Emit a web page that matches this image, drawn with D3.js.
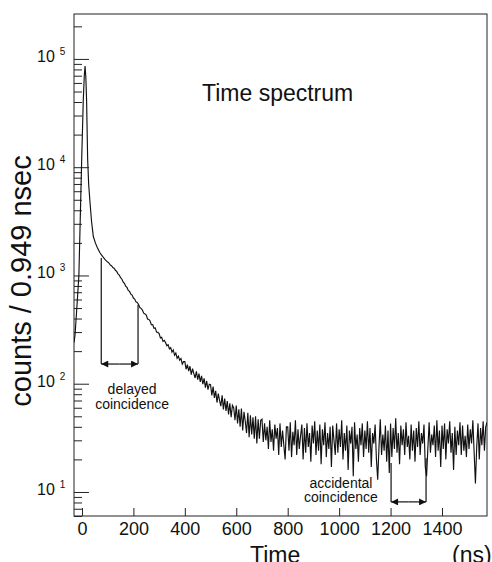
<!DOCTYPE html>
<html>
<head>
<meta charset="utf-8">
<script src="https://cdn.jsdelivr.net/npm/d3@7"></script>
<style>
body { margin: 0; background: #fff; }
svg text { font-family: "Liberation Sans", Arial, Helvetica, sans-serif; fill: #111; }
</style>
</head>
<body>
<svg id="chart" width="492" height="562"></svg>
<script>
// prompt peak, read point by point (ns, counts)
var peakTimes = [-31, -27, -20, -12, -6, -1, 5, 9, 12, 15, 18, 22, 26, 31, 37, 44, 52, 60, 70, 80, 90, 95];
var peakCounts = [240, 280, 500, 1000, 3900, 12000, 41000, 70000, 86000, 68000, 41000, 12000, 7000, 4800, 3200, 2300, 2000, 1800, 1620, 1500, 1400, 1365];

// decay and flat background, one reading every 5 ns from 100 ns
var tailStart = 100;
var tailStep = 5;
var tailCounts = [
  1330, 1302, 1250, 1231, 1185, 1168, 1116, 1090, 1035, 1010, 955, 928, 872, 846, 798, 775, 728, 712, 672, 658,
  618, 606, 570, 562, 540, 505, 497, 480, 448, 441, 430, 396, 392, 380, 350, 352, 325, 328, 300, 298,
  290, 265, 268, 246, 251, 240, 224, 229, 210, 216, 196, 205, 183, 192, 172, 180, 165, 171, 152, 160,
  160, 136, 150, 131, 145, 121, 138, 124, 113, 130, 109, 124, 104, 118, 99, 112, 92, 106, 88, 99,
  98, 78, 94, 74, 86, 67, 81, 70, 62, 78, 58, 73, 56, 69, 52, 66, 49, 63, 60, 46,
  63, 43, 58, 40, 59, 37, 55, 45, 35, 54, 32, 51, 34, 49, 31, 50, 28, 47, 31, 46,
  47, 29, 43, 30, 40, 25, 46, 29, 38, 24, 42, 31, 39, 22, 43, 26, 37, 27, 20, 40,
  40, 24, 44, 21, 36, 27, 46, 22, 38, 25, 33, 42, 20, 39, 23, 43, 26, 35, 19, 41,
  28, 45, 22, 37, 24, 42, 18, 38, 27, 44, 21, 35, 25, 40, 17, 41, 30, 22, 43, 23,
  38, 26, 46, 20, 35, 24, 41, 16, 37, 28, 40, 14, 44, 25, 34, 19, 39, 27, 43, 21,
  37, 25, 45, 23, 39, 17, 35, 28, 42, 20, 13, 26, 47, 22, 34, 24, 41, 19, 37, 15,
  43, 21, 39, 25, 48, 23, 35, 18, 41, 27, 38, 22, 44, 26, 33, 20, 42, 24, 37, 19,
  39, 26, 45, 22, 35, 28, 42, 17, 14, 25, 44, 23, 34, 27, 41, 21, 46, 24, 37, 17,
  41, 25, 43, 20, 38, 28, 45, 23, 35, 16, 40, 22, 37, 27, 44, 22, 41, 24, 33, 21,
  42, 25, 38, 28, 46, 23, 12, 26, 43, 20, 39, 27, 45, 24, 40, 44
];

var xTicks = [0, 200, 400, 600, 800, 1000, 1200, 1400];
var yDecades = [10, 100, 1000, 10000, 100000];
var yExponents = ["1", "2", "3", "4", "5"];

// gate windows drawn as brackets (ns) and where their legs stop (counts)
var delayedWindow = [75, 218];
var delayedTops = [1450, 535];
var delayedArrow = 152;
var accidentalWindow = [1202, 1338];
var accidentalTops = [18.5, 20.5];
var accidentalArrow = 8.1;

var svg = d3.select("#chart");
var plotL = 74, plotR = 487, plotT = 14, plotB = 516;

var x = d3.scaleLinear().domain([-31, 1575]).range([plotL, plotR]);
var y = d3.scaleLog().domain([6, 2.6e5]).range([plotB, plotT]);

// build the series
var points = [];
for (var i = 0; i < peakTimes.length; i++) {
  points.push([peakTimes[i], peakCounts[i]]);
}
for (var j = 0; j < tailCounts.length; j++) {
  points.push([tailStart + j * tailStep, tailCounts[j]]);
}

var defs = svg.append("defs");
defs.append("clipPath").attr("id", "plotclip")
  .append("rect")
  .attr("x", plotL).attr("y", plotT)
  .attr("width", plotR - plotL).attr("height", plotB - plotT);

var head = defs.append("marker")
  .attr("id", "head")
  .attr("viewBox", "0 0 10 10")
  .attr("refX", 10).attr("refY", 5)
  .attr("markerWidth", 9).attr("markerHeight", 7)
  .attr("markerUnits", "userSpaceOnUse")
  .attr("orient", "auto");
head.append("path").attr("d", "M0,0L10,5L0,10Z").attr("fill", "#111");

// minor and major ticks on the log axis, pointing inward
var minors = y.ticks().filter(function(v) { return yDecades.indexOf(v) < 0; });
svg.append("g")
  .attr("transform", "translate(" + plotL + ",0)")
  .call(d3.axisLeft(y).tickValues(minors).tickSize(-8).tickSizeOuter(0).tickFormat(""))
  .call(function(g) { g.select(".domain").remove(); });
svg.append("g")
  .attr("transform", "translate(" + plotL + ",0)")
  .call(d3.axisLeft(y).tickValues(yDecades).tickSize(-15).tickSizeOuter(0).tickFormat(""))
  .call(function(g) { g.select(".domain").remove(); });

var ylab = svg.append("g").selectAll("text").data(yDecades).enter().append("text")
  .attr("x", 37)
  .attr("y", function(d) { return y(d) + 3; })
  .attr("font-size", 16);
ylab.append("tspan").text("10");
ylab.append("tspan")
  .attr("dx", 5).attr("dy", -7)
  .attr("font-size", 10)
  .text(function(d, k) { return yExponents[k]; });

var xa = svg.append("g")
  .attr("transform", "translate(0," + plotB + ")")
  .call(d3.axisBottom(x).tickValues(xTicks).tickSize(-8).tickSizeOuter(0).tickPadding(6).tickFormat(d3.format("d")));
xa.select(".domain").remove();
xa.selectAll("text").attr("font-size", 18).attr("fill", "#111");
xa.attr("font-family", null).attr("font-size", null);

svg.selectAll(".tick line").attr("stroke", "#222").attr("stroke-width", 1);

// frame
svg.append("rect")
  .attr("x", plotL).attr("y", plotT)
  .attr("width", plotR - plotL).attr("height", plotB - plotT)
  .attr("fill", "none").attr("stroke", "#222").attr("stroke-width", 1);

// spectrum
var line = d3.line()
  .x(function(d) { return x(d[0]); })
  .y(function(d) { return y(d[1]); });
svg.append("path")
  .datum(points)
  .attr("clip-path", "url(#plotclip)")
  .attr("d", line)
  .attr("fill", "none")
  .attr("stroke", "#111")
  .attr("stroke-width", 1.15);

function bracket(win, tops, level) {
  var g = svg.append("g").attr("stroke", "#111").attr("stroke-width", 1.2).attr("fill", "none");
  var mid = (x(win[0]) + x(win[1])) / 2;
  g.append("line")
    .attr("x1", x(win[0])).attr("x2", x(win[0]))
    .attr("y1", y(tops[0])).attr("y2", y(level));
  g.append("line")
    .attr("x1", x(win[1])).attr("x2", x(win[1]))
    .attr("y1", y(tops[1])).attr("y2", y(level));
  g.append("line")
    .attr("x1", mid).attr("x2", x(win[0]))
    .attr("y1", y(level)).attr("y2", y(level))
    .attr("marker-end", "url(#head)");
  g.append("line")
    .attr("x1", mid).attr("x2", x(win[1]))
    .attr("y1", y(level)).attr("y2", y(level))
    .attr("marker-end", "url(#head)");
}
bracket(delayedWindow, delayedTops, delayedArrow);
bracket(accidentalWindow, accidentalTops, accidentalArrow);

function note(cx, by, lines) {
  svg.append("g").selectAll("text").data(lines).enter().append("text")
    .attr("x", cx)
    .attr("y", function(d, k) { return by + k * 14.5; })
    .attr("text-anchor", "middle")
    .attr("font-size", 14)
    .text(function(d) { return d; });
}
note(x(195), y(delayedArrow) + 30, ["delayed", "coincidence"]);
note(x(1007), y(accidentalArrow) - 14, ["accidental", "coincidence"]);

svg.append("text")
  .attr("x", 202).attr("y", 101)
  .attr("font-size", 23)
  .text("Time spectrum");

svg.append("text")
  .attr("transform", "translate(31,281) rotate(-90)")
  .attr("text-anchor", "middle")
  .attr("font-size", 29)
  .text("counts / 0.949 nsec");

svg.append("text")
  .attr("x", 250).attr("y", 563)
  .attr("font-size", 23)
  .text("Time");
svg.append("text")
  .attr("x", 452).attr("y", 563)
  .attr("font-size", 23)
  .text("(ns)");
</script>
</body>
</html>
